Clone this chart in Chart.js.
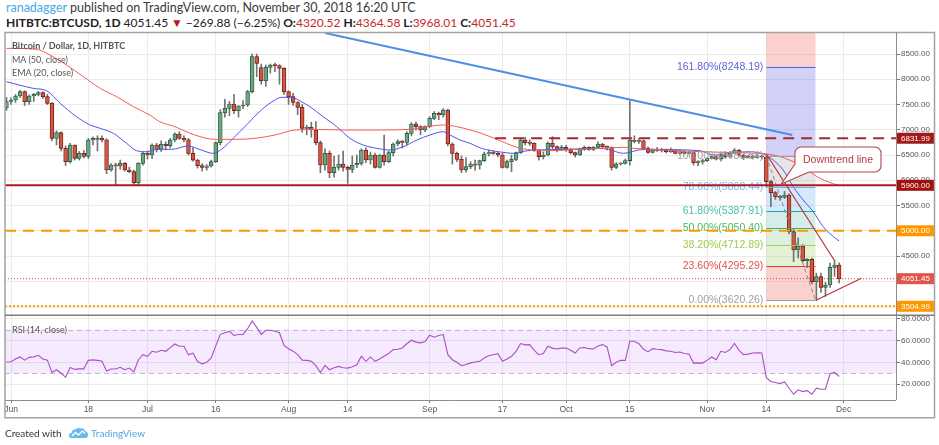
<!DOCTYPE html>
<html>
<head>
<meta charset="utf-8">
<title>Bitcoin / Dollar 1D</title>
<script src="https://cdn.jsdelivr.net/npm/chart.js@4.4.1/dist/chart.umd.min.js"></script>
<style>
  html, body { margin:0; padding:0; background:#fff; }
  body { width:939px; height:445px; position:relative; overflow:hidden; font-family: Lato, "Open Sans", sans-serif; }
  .abs { position:absolute; white-space:nowrap; }
  #h1 { left:6px; top:0px; font-size:12.5px; line-height:15px; color:#3a3a3a; }
  #h2 { left:6px; top:15px; font-size:12px; line-height:15px; color:#222; font-weight:bold; }
  .rv { color:#c62828; font-weight:normal; }
  .nv { font-weight:normal; }
  canvas { position:absolute; left:0; }
  #cA { top:0; }
  #cB { top:316px; }
  .leg { position:absolute; left:12px; font-size:9px; line-height:11px; color:#555; white-space:nowrap; }
  #foot { left:5px; top:426px; font-size:10px; line-height:14px; color:#333; }
  #foot .tv { color:#4aa8e0; }
</style>
</head>
<body>
<div id="h1" class="abs"><span style="color:#48a9e6">ranadagger</span> published on TradingView.com, November 30, 2018 16:20 UTC</div>
<div id="h2" class="abs">HITBTC:BTCUSD, 1D <span class="nv">4051.45</span> <span style="color:#b71c1c">▼</span> <span class="nv">−269.88 (−6.25%)</span> O:<span class="rv">4320.52</span> H:<span class="rv">4364.58</span> L:<span class="rv">3968.01</span> C:<span class="rv">4051.45</span></div>
<canvas id="cA" width="939" height="316"></canvas>
<canvas id="cB" width="939" height="129"></canvas>
<div class="leg" style="top:39.5px;font-weight:bold;">Bitcoin / Dollar, 1D, HITBTC</div>
<div class="leg" style="top:53.5px;">MA (50, close)</div>
<div class="leg" style="top:67px;">EMA (20, close)</div>
<div class="leg" style="top:323.5px;">RSI (14, close)</div>
<div id="foot" class="abs">Created with <svg width="19" height="12" viewBox="0 0 19 12" style="vertical-align:-2px;margin:0 3px 0 5px"><path d="M2 11 Q0 11 0 8.5 Q0 6 2.5 6 Q3 2 7 2.2 Q9 0 12 1.5 Q15 0.5 16 4 Q19 4.5 19 8 Q19 11 16 11 Z" fill="#6cb8e8"/><path d="M3 9 L6.5 5.5 L9.5 8 L13.5 4 L16 6.5" stroke="#fff" stroke-width="1.4" fill="none"/></svg><span class="tv">TradingView</span></div>
<script>
// ---------------- DATA ----------------
// day index: 0 = 1 Jun 2018, first candle = 31 May (-1), last = 30 Nov (182)
const firstDay = -1;
const opens = [
  7430, 7560, 7589, 7668, 7754, 7556, 7668, 7700, 7734, 7655,
  7523, 6830, 6942, 6632, 6368, 6698, 6434, 6533, 6470, 6797,
  6810, 6835, 6800, 6203, 6302, 6285, 6335, 6203, 6170, 5952,
  6335, 6533, 6500, 6698, 6612, 6711, 6685, 6797, 6916, 6830,
  6800, 6533, 6400, 6290, 6256, 6282, 6368, 6744, 7338, 7424,
  7510, 7378, 7470, 7490, 7754, 8447, 8230, 7972, 8236, 8282,
  8270, 8216, 7754, 7655, 7540, 7444, 7028, 7050, 6995, 6744,
  6302, 6533, 6150, 6256, 6322, 6256, 6216, 6302, 6335, 6599,
  6401, 6500, 6256, 6500, 6368, 6546, 6718, 6764, 6750, 6929,
  7114, 7061, 6995, 7061, 7226, 7325, 7292, 7391, 6718, 6533,
  6414, 6203, 6269, 6322, 6300, 6388, 6520, 6546, 6533, 6500,
  6256, 6368, 6414, 6546, 6797, 6744, 6731, 6599, 6467, 6500,
  6731, 6665, 6612, 6652, 6600, 6546, 6500, 6612, 6652, 6612,
  6652, 6718, 6665, 6652, 6256, 6322, 6335, 6390, 6797, 6770,
  6780, 6632, 6553, 6599, 6590, 6612, 6566, 6586, 6533, 6566,
  6533, 6546, 6348, 6368, 6388, 6434, 6467, 6420, 6500, 6467,
  6546, 6599, 6500, 6454, 6480, 6454, 6480, 6460, 5972, 5754,
  5675, 5662, 5708, 4982, 4619, 4698, 4408, 4434, 3992, 4091,
  3880, 3926, 4276, 4320.52
];
const highs = [
  7640, 7630, 7700, 7780, 7770, 7690, 7720, 7760, 7750, 7700,
  7540, 6980, 6960, 6680, 6730, 6700, 6570, 6590, 6830, 6860,
  6880, 6880, 6820, 6330, 6340, 6400, 6350, 6260, 6200, 6350,
  6560, 6580, 6720, 6730, 6780, 6760, 6830, 6940, 6960, 6880,
  6830, 6640, 6420, 6330, 6310, 6400, 6760, 7400, 7600, 7560,
  7700, 7480, 7580, 7780, 8500, 8500, 8300, 8280, 8300, 8320,
  8290, 8230, 7770, 7720, 7560, 7500, 7090, 7150, 7160, 6780,
  6620, 6580, 6480, 6500, 6580, 6280, 6480, 6500, 6620, 6640,
  6560, 6540, 6510, 6896, 6580, 6740, 6800, 6790, 6960, 7140,
  7150, 7080, 7080, 7260, 7360, 7350, 7420, 7410, 6740, 6560,
  6480, 6450, 6370, 6400, 6400, 6560, 6600, 6580, 6560, 6540,
  6400, 6500, 6560, 6820, 6850, 6800, 6740, 6610, 6560, 6760,
  6863, 6680, 6690, 6690, 6630, 6560, 6640, 6680, 6660, 6670,
  6760, 6730, 6680, 6660, 6350, 6350, 6420, 7576, 6880, 6830,
  6800, 6660, 6620, 6650, 6630, 6620, 6640, 6600, 6600, 6580,
  6570, 6560, 6390, 6420, 6450, 6480, 6480, 6530, 6540, 6570,
  6630, 6610, 6510, 6500, 6500, 6510, 6500, 6480, 6000, 5780,
  5700, 5780, 5730, 5048, 4860, 4730, 4450, 4460, 4160, 4160,
  3980, 4360, 4420, 4364.58
];
const lows = [
  7380, 7500, 7540, 7640, 7480, 7500, 7560, 7670, 7620, 7500,
  6780, 6700, 6580, 6290, 6340, 6400, 6400, 6440, 6430, 6700,
  6580, 6760, 6130, 6180, 5900, 6220, 6180, 6150, 5920, 5900,
  6300, 6420, 6430, 6560, 6570, 6600, 6640, 6760, 6810, 6760,
  6500, 6380, 6240, 6180, 6200, 6260, 6350, 6700, 7250, 7280,
  7320, 7250, 7420, 7460, 7730, 8050, 7900, 7860, 8120, 8150,
  7900, 7700, 7500, 7480, 7300, 6950, 6900, 6850, 6700, 6150,
  6200, 6050, 6060, 6200, 6180, 5939, 6150, 6250, 6300, 6350,
  6320, 6240, 6240, 6300, 6350, 6480, 6680, 6640, 6700, 6880,
  6990, 6900, 6960, 7040, 7200, 7200, 7250, 6680, 6320, 6370,
  6150, 6160, 6230, 6200, 6220, 6370, 6480, 6510, 6460, 6240,
  6240, 6170, 6390, 6530, 6700, 6690, 6570, 6400, 6420, 6480,
  6620, 6560, 6590, 6570, 6520, 6460, 6490, 6590, 6590, 6590,
  6640, 6650, 6600, 6200, 6230, 6300, 6320, 6300, 6740, 6730,
  6600, 6530, 6540, 6570, 6560, 6540, 6550, 6520, 6510, 6520,
  6520, 6300, 6290, 6320, 6370, 6420, 6400, 6380, 6450, 6440,
  6530, 6470, 6410, 6440, 6420, 6440, 6420, 5873, 5477, 5620,
  5600, 5640, 4940, 4388, 4460, 4380, 4270, 3950, 3620, 3780,
  3700, 3880, 4100, 3968.01
];
const closes = [
  7560, 7589, 7668, 7754, 7556, 7668, 7700, 7734, 7655, 7523,
  6830, 6942, 6632, 6368, 6698, 6434, 6533, 6470, 6797, 6830,
  6835, 6800, 6203, 6302, 6285, 6335, 6203, 6170, 5952, 6335,
  6533, 6500, 6698, 6612, 6711, 6685, 6797, 6916, 6830, 6800,
  6533, 6400, 6290, 6256, 6282, 6368, 6744, 7338, 7424, 7510,
  7378, 7470, 7490, 7754, 8447, 8315, 7972, 8236, 8282, 8270,
  8216, 7754, 7655, 7540, 7444, 7028, 7050, 6995, 6744, 6302,
  6533, 6150, 6256, 6322, 6256, 6216, 6302, 6335, 6599, 6401,
  6500, 6256, 6500, 6368, 6546, 6718, 6764, 6750, 6929, 7114,
  7061, 6995, 7061, 7226, 7325, 7292, 7391, 6718, 6533, 6414,
  6203, 6269, 6322, 6300, 6388, 6520, 6546, 6533, 6500, 6256,
  6368, 6414, 6546, 6797, 6744, 6731, 6599, 6467, 6500, 6731,
  6665, 6612, 6652, 6600, 6546, 6500, 6612, 6652, 6612, 6652,
  6718, 6665, 6652, 6256, 6322, 6335, 6390, 6797, 6770, 6780,
  6632, 6553, 6599, 6590, 6612, 6566, 6586, 6533, 6566, 6533,
  6546, 6348, 6368, 6388, 6434, 6467, 6420, 6500, 6467, 6546,
  6599, 6500, 6454, 6480, 6454, 6480, 6460, 5972, 5754, 5675,
  5662, 5708, 4982, 4619, 4698, 4408, 4434, 3992, 4091, 3880,
  3926, 4276, 4320, 4051.45
];
// MA (50, close) read at sample days
const maDays = [-1, 5.6, 8.6, 12.2, 15.9, 19.6, 23.2, 26.9, 30.5, 32.7, 36, 40.4, 44.8, 49.2, 53.6, 58, 62.4, 66.8, 73, 80.4, 87.7, 91.4, 95, 98, 100.9, 103.4, 107.1, 110.8, 114.4, 118.1, 121.8, 125.4, 129.1, 134.9, 136.8, 144.1, 151.4, 158.8, 166.1, 169, 171.9, 174.9, 177.8, 181.5, 182];
const maVals = [8612, 8592, 8480, 8282, 8051, 7820, 7655, 7457, 7292, 7160, 7061, 6896, 6810, 6810, 6830, 6896, 6995, 7008, 6995, 6995, 7008, 7061, 7094, 7061, 6995, 6929, 6797, 6665, 6599, 6586, 6599, 6612, 6632, 6652, 6632, 6599, 6566, 6546, 6520, 6467, 6368, 6203, 6038, 5906, 5890];
// EMA (20, close) read at sample days
const emaDays = [-1, 4.9, 7.8, 10.8, 14.4, 17.4, 19.6, 22.5, 25.4, 27.6, 29.8, 32.2, 35.3, 38.9, 41.8, 44.4, 46.2, 49.2, 52.1, 55, 58, 59.4, 61.6, 63.8, 65.7, 68.6, 71.6, 74.5, 77.4, 80.4, 83.3, 86.2, 89.2, 92.1, 95, 96.5, 98.7, 100.9, 103.4, 107.1, 110.8, 113, 115.9, 121.8, 129.1, 131.3, 134.6, 139, 151.4, 154.3, 162.3, 165.9, 167.5, 169.7, 171.9, 174.1, 176.3, 178.5, 181.5, 182];
const emaVals = [7952, 7820, 7774, 7523, 7259, 7094, 7028, 6929, 6731, 6586, 6566, 6615, 6612, 6678, 6599, 6533, 6610, 6863, 7127, 7391, 7589, 7642, 7642, 7556, 7457, 7259, 7061, 6830, 6698, 6632, 6599, 6665, 6797, 6896, 6962, 6896, 6797, 6731, 6632, 6566, 6533, 6579, 6599, 6612, 6632, 6612, 6533, 6612, 6586, 6500, 6566, 6500, 6401, 6203, 5873, 5609, 5378, 5081, 4830, 4800];
// RSI (14, close), one value per candle day
const rsiVals = [
  40.3, 40.5, 43, 44.9, 42, 44.5, 45, 46.4, 43, 42,
  30.7, 33.2, 30, 26.4, 35.3, 33.5, 34, 34, 41.8, 42.2,
  41.8, 41, 32.1, 33.9, 33.9, 35.4, 33.2, 34.7, 31.3, 42.4,
  47, 45.5, 50.1, 49.2, 51, 50.1, 53.5, 56.8, 54.7, 54.7,
  46.8, 48.3, 40.7, 38.6, 40, 44, 55, 65.6, 67.1, 68.3,
  64.6, 65.5, 65.5, 70.8, 77.9, 72, 65.6, 69.3, 69.3, 68.5,
  67.1, 55.5, 52.4, 50.2, 47, 42, 41.8, 40.9, 37, 30.7,
  37.2, 33.2, 35, 36.3, 35, 34.7, 36, 37.8, 45.5, 40.9,
  44.9, 40.9, 43, 45.5, 48, 51.6, 52, 53.1, 57, 60.2,
  58.5, 57.8, 59, 64.8, 63, 64.5, 65.4, 47, 42.4, 40,
  36.9, 38, 39.5, 40.3, 40.9, 44, 46.1, 47, 47.9, 40.9,
  43, 45.5, 50, 57.2, 56, 56.2, 51, 47, 48, 54.7,
  53, 52.2, 53, 53.1, 51, 48.5, 53.1, 53.5, 52.5, 52.2,
  55, 56.2, 54.1, 36.9, 40, 41.8, 41.8, 59.3, 59.3, 57,
  52, 49.5, 52.5, 52, 51.6, 50.5, 50.1, 49, 49.5, 48,
  47.6, 39.3, 39.5, 39.3, 42, 44.9, 42.4, 50.1, 49, 51.6,
  57.2, 51, 47, 47.5, 48.5, 48.8, 48.5, 26, 22.5, 21.5,
  20.5, 22, 16.3, 10.8, 14.8, 13.2, 14.1, 10.8, 16.3, 15.4,
  15.4, 29.5, 30.7, 27
];
// axis ticks
const timeTickDays = [0, 17, 30, 45, 61, 74, 92, 108, 122, 136, 153, 166, 183];
const timeTickLabels = ['Jun', '18', 'Jul', '16', 'Aug', '14', 'Sep', '17', 'Oct', '15', 'Nov', '14', 'Dec'];
const priceTicks = [3500, 4000, 4500, 5000, 5500, 6000, 6500, 7000, 7500, 8000, 8500];
const rsiTicks = [20, 40, 60, 80];
// drawn levels / tags
const resistance = 6831.99, support = 5900, halfLevel = 5000, lowLevel = 3504.99, lastPrice = 4051.45;
const fibLevels = [0, 23.6, 38.2, 50, 61.8, 78.6, 100, 161.8];
const fibValues = [3620.26, 4295.29, 4712.89, 5050.40, 5387.91, 5868.44, 6480.54, 8248.19];
// drawing anchors (day, price)
const fibAnchor = [[166, 6480.54], [176.8, 3620.26]];
const longTrend = [[69.0, 8916], [171.7, 6896]];
const downTrend = [[166, 6520], [180.9, 4421]];
const upTrend = [[176.9, 3625], [186.9, 4059]];
const callout = { box: [[172.3, 6658], [191.2, 6164]], tip: [169.3, 5926], text: 'Downtrend line' };

// ---------------- CHARTS ----------------
const days = opens.map((_, i) => i + firstDay);
const XMIN = -1.32, XMAX = 194.5;
const UP = '#6ba583', UPB = '#225437', DN = '#d75442', DNB = '#5b1a13';
const isUp = opens.map((o, i) => closes[i] >= o);
const AXF = '"Liberation Sans", Arial, sans-serif';
Chart.defaults.font.family = AXF;
Chart.defaults.font.size = 8;
Chart.defaults.color = '#555';

function zeroPad(s) { s.paddingTop = 0; s.paddingBottom = 0; s.paddingLeft = 0; s.paddingRight = 0; }

function xScale(showLabels) {
  return {
    type: 'linear', min: XMIN, max: XMAX, position: 'bottom', offset: false,
    afterBuildTicks: s => { s.ticks = timeTickDays.map(v => ({ value: v })); },
    afterFit: s => { s.height = showLabels ? 45 : 0; zeroPad(s); },
    ticks: { display: showLabels, autoSkip: false, maxRotation: 0, padding: 2, color: '#555', font: { size: 8.5 },
      callback: v => { const k = timeTickDays.indexOf(v); return k >= 0 ? timeTickLabels[k] : ''; } },
    grid: { offset: false, color: '#ebebeb', lineWidth: 1, drawTicks: showLabels, tickLength: 3, tickColor: '#777' },
    border: { display: false }
  };
}

function hline(ctx, a, yv, color, w, dash, x0) {
  ctx.save();
  ctx.strokeStyle = color; ctx.lineWidth = w; ctx.setLineDash(dash || []);
  ctx.beginPath(); ctx.moveTo(x0 === undefined ? a.left : x0, yv); ctx.lineTo(a.right, yv); ctx.stroke();
  ctx.restore();
}

const zoneFill = ['rgba(244,67,54,0.24)', 'rgba(139,195,74,0.24)', 'rgba(76,175,80,0.2)', 'rgba(38,166,154,0.2)',
  'rgba(100,181,246,0.28)', 'rgba(150,150,150,0.24)', 'rgba(92,92,230,0.28)', 'rgba(244,67,54,0.25)'];
const levelLine = ['#9e9e9e', '#e53935', '#9ccc65', '#4caf50', '#26a69a', '#64b5f6', '#9e9e9e', '#5c5ce0'];
const levelText = ['#a0a0a0', '#e25050', '#a3c94a', '#4cba55', '#45c3a2', '#70b8ee', '#a0a0a0', '#6262d8'];

const annA = {
  id: 'annA',
  beforeDatasetsDraw(c) {
    const { ctx, chartArea: a, scales: { x, y } } = c;
    ctx.save();
    ctx.beginPath(); ctx.rect(a.left, a.top, a.right - a.left, a.bottom - a.top); ctx.clip();
    const x0 = x.getPixelForValue(fibAnchor[0][0]), x1 = x.getPixelForValue(fibAnchor[1][0]);
    for (let i = 0; i < fibValues.length; i++) {
      const lo = y.getPixelForValue(fibValues[i]);
      const hi = i + 1 < fibValues.length ? y.getPixelForValue(fibValues[i + 1]) : a.top;
      ctx.fillStyle = zoneFill[i];
      ctx.fillRect(x0, hi, x1 - x0, lo - hi);
    }
    ctx.restore();
  },
  afterDatasetsDraw(c) {
    const { ctx, chartArea: a, scales: { x, y } } = c;
    const X = v => x.getPixelForValue(v), Y = v => y.getPixelForValue(v);
    ctx.save();
    ctx.beginPath(); ctx.rect(a.left, a.top, a.right - a.left, a.bottom - a.top); ctx.clip();
    // fib levels and labels
    const x0 = X(fibAnchor[0][0]), x1 = X(fibAnchor[1][0]);
    ctx.font = '10.5px ' + AXF; ctx.textAlign = 'right'; ctx.textBaseline = 'middle';
    for (let i = 0; i < fibValues.length; i++) {
      const yy = Math.round(Y(fibValues[i])) + 0.5;
      ctx.strokeStyle = levelLine[i]; ctx.lineWidth = 1;
      ctx.beginPath(); ctx.moveTo(x0, yy); ctx.lineTo(x1, yy); ctx.stroke();
      ctx.fillStyle = levelText[i];
      ctx.fillText(fibLevels[i].toFixed(2) + '%(' + fibValues[i].toFixed(2) + ')', x0 - 3, yy);
    }
    ctx.strokeStyle = 'rgba(120,120,120,0.85)'; ctx.setLineDash([4, 3]); ctx.lineWidth = 1;
    ctx.beginPath(); ctx.moveTo(X(fibAnchor[0][0]), Y(fibAnchor[0][1])); ctx.lineTo(X(fibAnchor[1][0]), Y(fibAnchor[1][1])); ctx.stroke();
    ctx.setLineDash([]);
    // horizontal levels
    hline(ctx, a, Y(support), '#b0191e', 2, []);
    hline(ctx, a, Y(resistance), '#a52a2a', 2, [11, 7], X(106.4));
    hline(ctx, a, Y(halfLevel), '#ff9800', 2, [11, 7]);
    hline(ctx, a, Y(lowLevel), '#ff9800', 2, [2, 2]);
    hline(ctx, a, Y(lastPrice), '#e0413a', 1, [1, 2]);
    // trend lines
    const seg = (p, col, w) => { ctx.strokeStyle = col; ctx.lineWidth = w; ctx.beginPath(); ctx.moveTo(X(p[0][0]), Y(p[0][1])); ctx.lineTo(X(p[1][0]), Y(p[1][1])); ctx.stroke(); };
    seg(longTrend, '#4d8fe8', 2);
    seg(downTrend, '#b5343a', 1.2);
    seg(upTrend, '#b5343a', 1.2);
    // callout
    const bx0 = X(callout.box[0][0]), by0 = Y(callout.box[0][1]), bx1 = X(callout.box[1][0]), by1 = Y(callout.box[1][1]);
    const tx = X(callout.tip[0]), ty = Y(callout.tip[1]), r = 6;
    ctx.beginPath();
    ctx.moveTo(bx0 + r, by0);
    ctx.arcTo(bx1, by0, bx1, by1, r);
    ctx.arcTo(bx1, by1, bx0, by1, r);
    ctx.lineTo(bx0 + 14, by1);
    ctx.lineTo(tx, ty);
    ctx.lineTo(bx0, by1 - 8);
    ctx.arcTo(bx0, by0, bx1, by0, r);
    ctx.closePath();
    ctx.fillStyle = 'rgba(255,255,255,0.95)'; ctx.fill();
    ctx.strokeStyle = '#b5474b'; ctx.lineWidth = 1.1; ctx.stroke();
    ctx.fillStyle = '#b73b3e'; ctx.font = '10.5px ' + AXF; ctx.textAlign = 'center'; ctx.textBaseline = 'middle';
    ctx.fillText(callout.text, (bx0 + bx1) / 2, (by0 + by1) / 2 + 0.5);
    ctx.restore();
  },
  afterDraw(c) {
    const { ctx, chartArea: a, scales: { y } } = c;
    // price tags
    const tags = [[resistance, '#a01a1a'], [support, '#a30f0f'], [halfLevel, '#ff9800'], [lastPrice, '#e05547'], [lowLevel, '#ff9800']];
    ctx.save();
    ctx.font = '8px ' + AXF; ctx.textAlign = 'left'; ctx.textBaseline = 'middle';
    tags.forEach(([v, col]) => {
      const yy = y.getPixelForValue(v);
      ctx.fillStyle = col; ctx.fillRect(a.right + 1, yy - 5.5, 38, 11);
      ctx.fillStyle = '#fff'; ctx.fillText(v.toFixed(2), a.right + 5, yy + 0.5);
    });
    // frame
    ctx.strokeStyle = '#a3a3a3'; ctx.lineWidth = 1.5;
    ctx.beginPath();
    ctx.moveTo(5, 316); ctx.lineTo(5, 32.5); ctx.lineTo(934.5, 32.5); ctx.lineTo(934.5, 316);
    ctx.stroke();
    ctx.strokeStyle = '#8c8c8c'; ctx.lineWidth = 1;
    ctx.beginPath(); ctx.moveTo(a.right + 0.5, 32); ctx.lineTo(a.right + 0.5, 316); ctx.stroke();
    ctx.strokeStyle = '#7d7d7d'; ctx.lineWidth = 1.6;
    ctx.beginPath(); ctx.moveTo(5, 315.2); ctx.lineTo(935, 315.2); ctx.stroke();
    ctx.restore();
  }
};

new Chart(document.getElementById('cA'), {
  type: 'bar',
  data: {
    datasets: [
      { type: 'line', label: 'MA', data: maDays.map((d, i) => ({ x: d, y: maVals[i] })), borderColor: '#f55a5a', borderWidth: 1,
        pointRadius: 0, cubicInterpolationMode: 'monotone', order: 0 },
      { type: 'line', label: 'EMA', data: emaDays.map((d, i) => ({ x: d, y: emaVals[i] })), borderColor: '#5252ee', borderWidth: 1,
        pointRadius: 0, cubicInterpolationMode: 'monotone', order: 0 },
      { label: 'body', data: days.map((d, i) => ({ x: d, y: [opens[i], closes[i]] })),
        backgroundColor: isUp.map(u => u ? UP : DN), borderColor: isUp.map(u => u ? UPB : DNB),
        borderWidth: 0.8, borderSkipped: false, barThickness: 3.8, grouped: false, minBarLength: 1, order: 1 },
      { label: 'wick', data: days.map((d, i) => ({ x: d, y: [lows[i], highs[i]] })),
        backgroundColor: '#737375', barThickness: 1, grouped: false, order: 2 }
    ]
  },
  options: {
    responsive: false, animation: false, devicePixelRatio: 1,
    layout: { padding: { left: 5, top: 32, right: 0, bottom: 0 } },
    plugins: { legend: { display: false }, tooltip: { enabled: false } },
    scales: {
      x: xScale(false),
      y: {
        position: 'right', min: 3312.4, max: 8935.6,
        afterBuildTicks: s => { s.ticks = priceTicks.map(v => ({ value: v })); },
        afterFit: s => { s.width = 43; zeroPad(s); },
        ticks: { padding: 1, color: '#555', font: { size: 8 }, callback: v => Number(v).toFixed(2) },
        grid: { color: '#ebebeb', tickLength: 4, tickColor: '#777' },
        border: { display: false }
      }
    }
  },
  plugins: [annA]
});

const annB = {
  id: 'annB',
  beforeDatasetsDraw(c) {
    const { ctx, chartArea: a, scales: { y } } = c;
    const y70 = y.getPixelForValue(70), y30 = y.getPixelForValue(30);
    ctx.save();
    ctx.fillStyle = 'rgba(153,21,255,0.09)';
    ctx.fillRect(a.left, y70, a.right - a.left, y30 - y70);
    ctx.strokeStyle = '#c2b8cc'; ctx.lineWidth = 1; ctx.setLineDash([5, 4]);
    [y70, y30].forEach(v => { ctx.beginPath(); ctx.moveTo(a.left, Math.round(v) + 0.5); ctx.lineTo(a.right, Math.round(v) + 0.5); ctx.stroke(); });
    ctx.restore();
  },
  afterDraw(c) {
    const { ctx, chartArea: a } = c;
    ctx.save();
    ctx.strokeStyle = '#8c8c8c'; ctx.lineWidth = 1;
    ctx.beginPath(); ctx.moveTo(a.right + 0.5, 0); ctx.lineTo(a.right + 0.5, a.bottom); ctx.stroke();
    ctx.beginPath(); ctx.moveTo(5, a.bottom + 0.5); ctx.lineTo(a.right, a.bottom + 0.5); ctx.stroke();
    ctx.strokeStyle = '#a3a3a3'; ctx.lineWidth = 1.5;
    ctx.beginPath(); ctx.moveTo(5, 0); ctx.lineTo(5, 101.8); ctx.lineTo(934.5, 101.8); ctx.lineTo(934.5, 0); ctx.stroke();
    ctx.restore();
  }
};

new Chart(document.getElementById('cB'), {
  type: 'line',
  data: {
    datasets: [
      { label: 'RSI', data: days.map((d, i) => ({ x: d, y: rsiVals[i] })), borderColor: '#ab4fc6', borderWidth: 1.1,
        pointRadius: 0, tension: 0 }
    ]
  },
  options: {
    responsive: false, animation: false, devicePixelRatio: 1,
    layout: { padding: { left: 5, top: 0, right: 0, bottom: 0 } },
    plugins: { legend: { display: false }, tooltip: { enabled: false } },
    scales: {
      x: xScale(true),
      y: {
        position: 'right', min: 5.5, max: 82.4,
        afterBuildTicks: s => { s.ticks = rsiTicks.map(v => ({ value: v })); },
        afterFit: s => { s.width = 43; zeroPad(s); },
        ticks: { padding: 1, color: '#555', font: { size: 8 }, callback: v => Number(v).toFixed(4) },
        grid: { color: '#ebebeb', tickLength: 4, tickColor: '#777' },
        border: { display: false }
      }
    }
  },
  plugins: [annB]
});
</script>
</body>
</html>
